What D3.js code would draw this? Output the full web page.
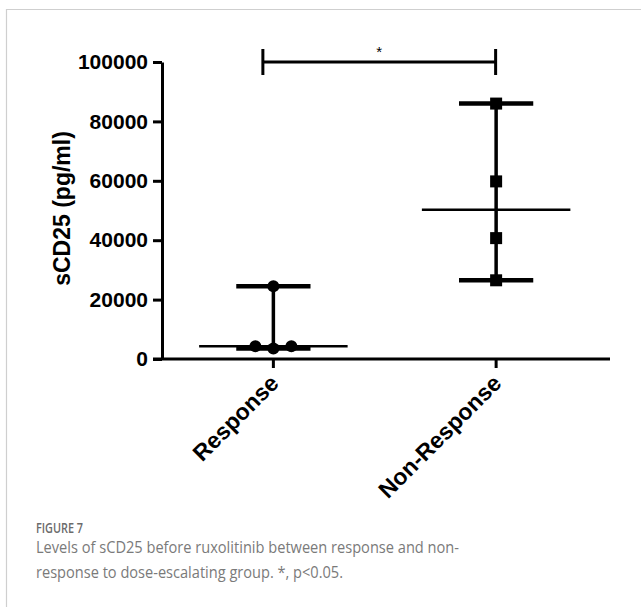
<!DOCTYPE html>
<html lang="en">
<head>
<meta charset="UTF-8">
<title>sCD25 response vs non-response</title>
<script src="https://cdn.jsdelivr.net/npm/d3@7"></script>
<style>
    body { margin: 0; background: #ffffff; }
    .tick text { font-family: "Liberation Sans", Arial, sans-serif; font-weight: bold; }
</style>
</head>
<body>
<div id="chart"></div>
<script>
    // data
    const categories = ["Response", "Non-Response"];
    const responseValues = [24500, 4300, 3500, 4300];
    const nonResponseValues = [86000, 59800, 40700, 26500];
    const yTicks = [0, 20000, 40000, 60000, 80000, 100000];
    const captionTitle = "FIGURE 7";
    const captionLines = [
        "Levels of sCD25 before ruxolitinib between response and non-",
        "response to dose-escalating group. *, p<0.05."
    ];

    const width = 641, height = 607;
    const svg = d3.select("#chart").append("svg")
        .attr("width", width)
        .attr("height", height);

    svg.append("rect").attr("width", width).attr("height", height).attr("fill", "#fff");

    // light frame (top + left)
    svg.append("path")
        .attr("d", "M6.5,607 V9.5 H641")
        .attr("fill", "none")
        .attr("stroke", "#cfcfcf")
        .attr("stroke-width", 1.2);

    const x = d3.scalePoint().domain(categories).range([162, 607.5]).padding(0.5);
    const y = d3.scaleLinear().domain([0, 100000]).range([359, 62]);
    const step = x.step();

    // y axis
    const yAxis = svg.append("g")
        .attr("transform", "translate(162,0)")
        .call(d3.axisLeft(y).tickValues(yTicks).tickFormat(d3.format("d")).tickSize(9).tickSizeOuter(0).tickPadding(5));
    yAxis.select(".domain").attr("stroke-width", 3);
    yAxis.selectAll(".tick line").attr("stroke-width", 3);
    yAxis.selectAll(".tick text").attr("font-size", 21).attr("fill", "#000");

    // x axis
    svg.append("line")
        .attr("x1", 153).attr("x2", 610)
        .attr("y1", y(0)).attr("y2", y(0))
        .attr("stroke", "#000").attr("stroke-width", 3);
    svg.selectAll(".xtick").data(categories).enter().append("line")
        .attr("x1", d => x(d)).attr("x2", d => x(d))
        .attr("y1", y(0)).attr("y2", y(0) + 9)
        .attr("stroke", "#000").attr("stroke-width", 3);
    svg.selectAll(".xlabel").data(categories).enter().append("text")
        .attr("transform", d => `translate(${x(d) + 1},${y(0) + 20}) rotate(-45)`)
        .attr("text-anchor", "end")
        .attr("dy", "0.35em")
        .attr("font-family", "Liberation Sans, Arial, sans-serif")
        .attr("font-weight", "bold")
        .attr("font-size", 23)
        .text(d => d);

    // y title
    svg.append("text")
        .attr("transform", `translate(70,${(y(0) + y(100000)) / 2 - 2}) rotate(-90)`)
        .attr("text-anchor", "middle")
        .attr("font-family", "Liberation Sans, Arial, sans-serif")
        .attr("font-weight", "bold")
        .attr("font-size", 23)
        .text("sCD25 (pg/ml)");

    // spread overlapping points sideways (lowest in middle)
    function spread(values, sym) {
        const sorted = values.map((v, i) => ({ v, i })).sort((a, b) => a.v - b.v);
        const out = values.map(() => 0);
        let cluster = [];
        const flush = () => {
            cluster.forEach((p, k) => {
                const side = k === 0 ? 0 : (k % 2 === 1 ? -1 : 1) * Math.ceil(k / 2);
                out[p.i] = side * sym;
            });
            cluster = [];
        };
        sorted.forEach(p => {
            if (cluster.length && Math.abs(y(p.v) - y(cluster[0].v)) > 12) flush();
            cluster.push(p);
        });
        flush();
        return out;
    }

    const groups = [
        { cat: categories[0], values: responseValues, shape: "circle" },
        { cat: categories[1], values: nonResponseValues, shape: "square" }
    ];

    groups.forEach(g => {
        const cx = x(g.cat);
        const min = d3.min(g.values), max = d3.max(g.values), med = d3.median(g.values);
        const grp = svg.append("g");
        // range line
        grp.append("line")
            .attr("x1", cx).attr("x2", cx)
            .attr("y1", y(min)).attr("y2", y(max))
            .attr("stroke", "#000").attr("stroke-width", 3.5);
        // range caps
        grp.selectAll(".cap").data([min, max]).enter().append("line")
            .attr("x1", cx - step / 6).attr("x2", cx + step / 6)
            .attr("y1", d => y(d)).attr("y2", d => y(d))
            .attr("stroke", "#000").attr("stroke-width", 4.5);
        // median
        grp.append("line")
            .attr("x1", cx - step / 3).attr("x2", cx + step / 3)
            .attr("y1", y(med)).attr("y2", y(med))
            .attr("stroke", "#000").attr("stroke-width", 2.5);
        // points
        const offs = spread(g.values, 18);
        if (g.shape === "circle") {
            grp.selectAll("circle").data(g.values).enter().append("circle")
                .attr("cx", (d, i) => cx + offs[i])
                .attr("cy", d => y(d))
                .attr("r", 6)
                .attr("fill", "#000");
        } else {
            grp.selectAll("rect").data(g.values).enter().append("rect")
                .attr("x", (d, i) => cx + offs[i] - 6)
                .attr("y", d => y(d) - 6)
                .attr("width", 12).attr("height", 12)
                .attr("fill", "#000");
        }
    });

    // significance bracket
    const bx1 = x(categories[0]) - 10.5, bx2 = x(categories[1]) - 0.5, by = y(100000);
    svg.append("path")
        .attr("d", `M${bx1},${by - 13} V${by + 13} M${bx1},${by} H${bx2} M${bx2},${by - 13} V${by + 13}`)
        .attr("fill", "none")
        .attr("stroke", "#000")
        .attr("stroke-width", 3);
    svg.append("text")
        .attr("x", (bx1 + bx2) / 2)
        .attr("y", by - 5)
        .attr("text-anchor", "middle")
        .attr("font-family", "Liberation Sans, Arial, sans-serif")
        .attr("font-size", 15)
        .text("*");

    // caption
    svg.append("text")
        .attr("x", 36).attr("y", 533)
        .attr("font-family", "Open Sans, sans-serif")
        .attr("font-weight", 600)
        .attr("font-size", 15)
        .attr("fill", "#6b6b6b")
        .attr("textLength", 47)
        .attr("lengthAdjust", "spacingAndGlyphs")
        .text(captionTitle);
    const captionWidths = [423, 307];
    svg.selectAll(".cap-line").data(captionLines).enter().append("text")
        .attr("x", 36)
        .attr("y", (d, i) => 553 + i * 25)
        .attr("font-family", "Open Sans, sans-serif")
        .attr("font-size", 16)
        .attr("fill", "#7a7a7a")
        .attr("textLength", (d, i) => captionWidths[i])
        .attr("lengthAdjust", "spacingAndGlyphs")
        .text(d => d);
</script>
</body>
</html>
